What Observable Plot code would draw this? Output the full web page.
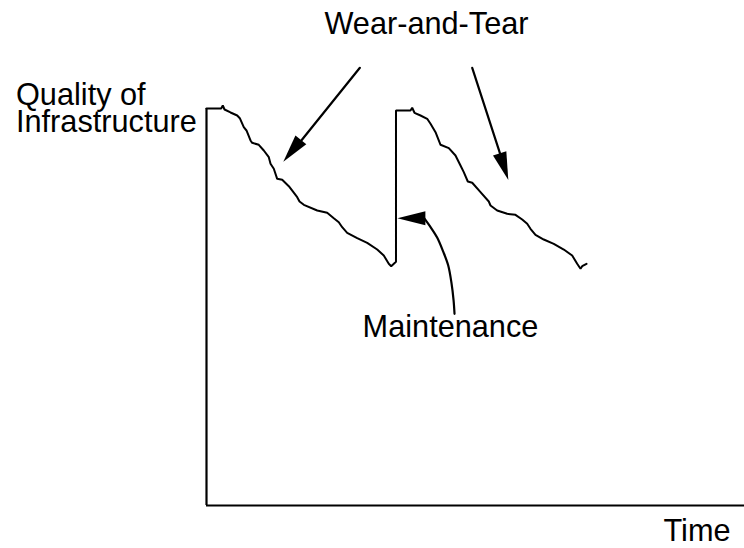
<!DOCTYPE html>
<html>
<head>
<meta charset="utf-8">
<script src="https://cdn.jsdelivr.net/npm/d3@7"></script>
<script src="https://cdn.jsdelivr.net/npm/@observablehq/plot@0.6"></script>
<style>
  html, body { margin: 0; padding: 0; background: #fff; }
  svg { display: block; }
</style>
</head>
<body>
<div id="chart"></div>
<script>
// Time runs 0..100 along the axis, quality 0..100 up the axis.
// First wear-and-tear cycle (decline from full quality)
const cycle1Time = [0, 2.73, 3.03, 3.35, 4.46, 5.71, 6.19, 6.93, 7.43, 8.18, 8.49, 9.72, 10.65, 11.58, 11.90, 12.51, 13.14, 14.07, 15.30, 16.86, 17.29, 18.09, 20.58, 22.43, 23.66, 24.59, 25.22, 26.15, 28.01, 29.87, 31.73, 32.95, 33.88, 34.33, 35.22];
const cycle1Quality = [100, 100, 100.76, 99.75, 99.0, 98.24, 97.56, 95.29, 94.46, 91.94, 91.36, 90.86, 89.42, 87.73, 86.07, 84.81, 82.29, 82.04, 80.43, 77.66, 76.57, 75.74, 74.31, 73.73, 72.37, 71.36, 70.10, 68.69, 67.33, 66.17, 64.48, 62.97, 60.88, 60.28, 61.4];
// Maintenance restores quality, then the second cycle declines again
const cycle2Time = [35.22, 37.92, 38.23, 38.66, 39.78, 41.02, 41.64, 42.57, 43.50, 45.04, 46.28, 47.21, 47.82, 48.57, 49.39, 50.93, 52.47, 52.79, 54.03, 55.89, 57.43, 58.68, 59.61, 60.22, 61.15, 62.69, 64.55, 66.41, 67.97, 68.90, 69.52, 69.83, 70.63];
const cycle2Quality = [99.5, 99.5, 100.18, 98.92, 98.24, 97.41, 96.15, 94.03, 90.86, 90.0, 88.16, 85.64, 83.96, 81.61, 81.29, 78.92, 76.57, 75.57, 74.31, 73.48, 73.22, 72.04, 70.96, 69.70, 68.19, 67.00, 65.92, 64.48, 62.97, 60.88, 59.62, 60.28, 60.88];

// Annotation arrows (start -> tip)
const arrowStartTime = [28.51, 49.39];
const arrowStartQuality = [110.25, 110.25];
const arrowTipTime = [14.37, 56.19];
const arrowTipQuality = [86.47, 81.86];

// Maintenance pointer: curved leader from the label up to the arrowhead
const leaderTime = [46.10, 45.93, 45.54, 44.92, 43.98, 42.87, 41.46, 40.56];
const leaderQuality = [48.29, 51.6, 56.0, 60.5, 64.0, 67.5, 70.5, 72.22];
const leaderTipTime = 35.57;
const leaderTipQuality = 72.22;

// Text labels
const labelText = ["Wear-and-Tear", "Quality of\nInfrastructure", "Maintenance", "Time"];
const labelTime = [40.89, -35.41, 45.35, 91.17];
const labelQuality = [118.81, 94.06, 42.39, -9.0];
const labelAnchor = ["middle", "start", "middle", "middle"];

const curve = [
  ...cycle1Time.map((t, i) => ({t, q: cycle1Quality[i]})),
  ...cycle2Time.map((t, i) => ({t, q: cycle2Quality[i]}))
];
const arrows = arrowStartTime.map((t, i) => ({
  t1: t, q1: arrowStartQuality[i], t2: arrowTipTime[i], q2: arrowTipQuality[i]
}));
const leader = leaderTime.map((t, i) => ({t, q: leaderQuality[i]}));
const heads = [
  ...arrows.map(a => ({ft: a.t1, fq: a.q1, tt: a.t2, tq: a.q2})),
  {ft: leaderTime[leaderTime.length - 1], fq: leaderQuality[leaderQuality.length - 1], tt: leaderTipTime, tq: leaderTipQuality}
];
const labels = labelText.map((text, i) => ({text, t: labelTime[i], q: labelQuality[i], anchor: labelAnchor[i]}));

const FONT = "'Liberation Sans', Arial, Helvetica, sans-serif";

function arrowHeads(index, scales) {
  const g = d3.create("svg:g");
  for (const h of heads) {
    const tx = scales.x(h.tt), ty = scales.y(h.tq);
    const fx = scales.x(h.ft), fy = scales.y(h.fq);
    const dx = tx - fx, dy = ty - fy, L = Math.hypot(dx, dy);
    const ux = dx / L, uy = dy / L;
    const len = 28, half = 7;
    const bx = tx - ux * len, by = ty - uy * len;
    const pts = [[tx, ty], [bx - uy * half, by + ux * half], [bx + uy * half, by - ux * half]];
    g.append("path")
      .attr("d", "M" + pts.map(p => p.join(",")).join("L") + "Z")
      .attr("fill", "black");
  }
  return g.node();
}

const makeText = (anchor) => Plot.text(labels.filter(d => d.anchor === anchor), {
  x: "t", y: "q", text: "text",
  textAnchor: anchor, lineAnchor: "bottom", lineHeight: 0.88,
  fontSize: 30.7, fontFamily: FONT, fill: "black"
});

const chart = Plot.plot({
  width: 744,
  height: 548,
  marginLeft: 206,
  marginRight: 0,
  marginTop: 108,
  marginBottom: 43,
  x: {domain: [0, 100], axis: null},
  y: {domain: [0, 100], axis: null},
  style: {background: "white", overflow: "visible"},
  marks: [
    Plot.ruleX([0], {y1: 0, y2: 100, stroke: "black", strokeWidth: 2.2}),
    Plot.ruleY([0], {x1: 0, x2: 100, stroke: "black", strokeWidth: 2.2}),
    Plot.line(curve, {x: "t", y: "q", stroke: "black", strokeWidth: 2, strokeLinejoin: "miter"}),
    Plot.arrow(arrows, {x1: "t1", y1: "q1", x2: "t2", y2: "q2", stroke: "black", strokeWidth: 2.2, headLength: 0, insetEnd: 18}),
    Plot.line(leader, {x: "t", y: "q", curve: "catmull-rom", stroke: "black", strokeWidth: 2.2}),
    arrowHeads,
    makeText("middle"),
    makeText("start")
  ]
});
document.getElementById("chart").appendChild(chart);
</script>
</body>
</html>
